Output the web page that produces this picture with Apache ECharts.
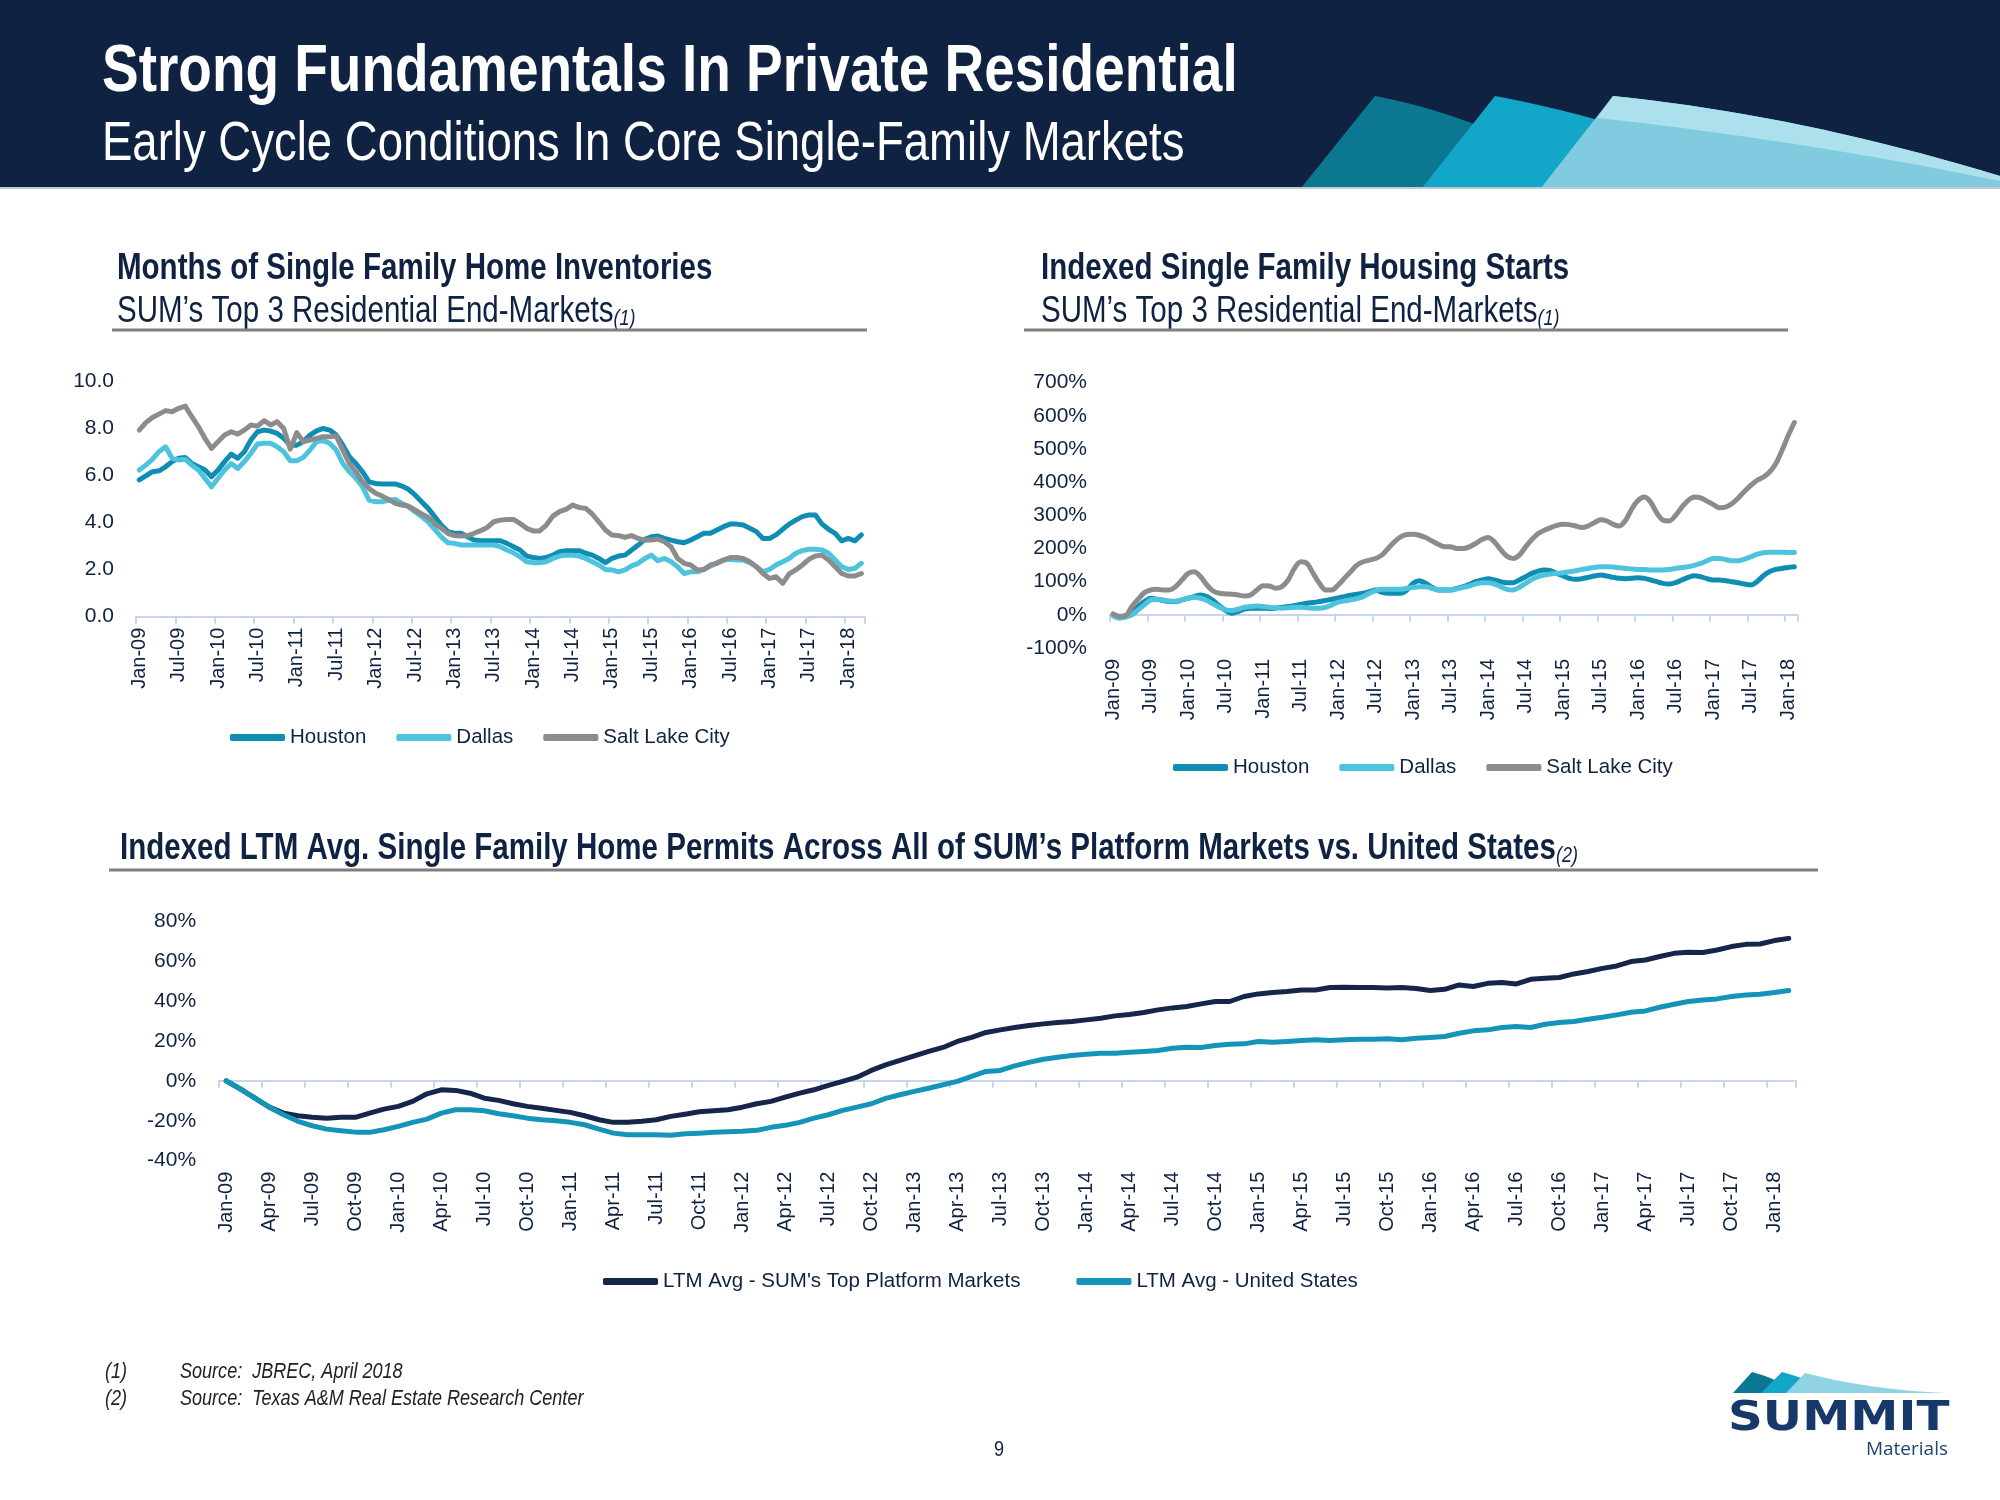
<!DOCTYPE html>
<html>
<head>
<meta charset="utf-8">
<script src="https://cdn.jsdelivr.net/npm/echarts@6/dist/echarts.min.js"></script>
<style>
html,body{margin:0;padding:0;background:#fff;}
#main{width:2000px;height:1500px;}
</style>
</head>
<body>
<div id="main"></div>
<script>
// ---------- DATA ----------
function monthLabels(startYear, count) {
  const m = ['Jan','Feb','Mar','Apr','May','Jun','Jul','Aug','Sep','Oct','Nov','Dec'];
  const out = [];
  for (let i = 0; i < count; i++) {
    const y = startYear + Math.floor(i / 12);
    out.push(m[i % 12] + '-' + String(y % 100).padStart(2, '0'));
  }
  return out;
}
// Chart 1: months of inventory, Jan-09 .. Mar-18
const months1 = monthLabels(2009, 111);
const houstonInv = [5.82,5.99,6.17,6.21,6.38,6.60,6.74,6.77,6.52,6.38,
  6.24,5.96,6.24,6.60,6.92,6.74,7.02,7.52,7.87,7.94,
  7.90,7.80,7.59,7.30,7.30,7.45,7.73,7.91,8.01,7.94,
  7.73,7.30,6.81,6.52,6.17,5.74,5.67,5.65,5.65,5.65,
  5.56,5.42,5.18,4.89,4.61,4.26,3.90,3.62,3.55,3.55,
  3.40,3.26,3.23,3.23,3.23,3.23,3.12,2.98,2.84,2.58,
  2.52,2.48,2.52,2.62,2.77,2.81,2.81,2.81,2.70,2.62,
  2.48,2.30,2.48,2.58,2.62,2.84,3.05,3.29,3.40,3.43,
  3.33,3.26,3.19,3.15,3.26,3.40,3.55,3.55,3.69,3.83,
  3.94,3.94,3.90,3.76,3.62,3.33,3.33,3.48,3.72,3.94,
  4.11,4.26,4.33,4.33,3.94,3.72,3.55,3.23,3.33,3.23,3.48];
const dallasInv = [6.24,6.45,6.70,7.02,7.23,6.74,6.67,6.70,6.45,6.24,
  5.89,5.53,5.89,6.24,6.52,6.31,6.60,6.95,7.35,7.38,
  7.38,7.23,7.02,6.64,6.64,6.78,7.09,7.45,7.49,7.38,
  7.09,6.52,6.17,5.89,5.53,4.96,4.89,4.89,4.96,4.99,
  4.82,4.68,4.47,4.26,4.04,3.72,3.40,3.15,3.12,3.05,
  3.05,3.05,3.05,3.05,3.05,2.98,2.84,2.72,2.55,2.34,
  2.30,2.30,2.34,2.48,2.58,2.62,2.62,2.58,2.48,2.34,
  2.20,2.01,1.99,1.91,1.99,2.16,2.27,2.48,2.62,2.38,
  2.48,2.34,2.13,1.84,1.91,1.91,2.01,2.16,2.30,2.41,
  2.44,2.41,2.41,2.30,2.13,1.91,2.01,2.20,2.34,2.48,
  2.70,2.81,2.87,2.87,2.84,2.70,2.41,2.13,2.01,2.06,2.27];
const slcInv = [7.94,8.26,8.48,8.62,8.77,8.72,8.87,8.96,8.51,8.09,
  7.59,7.16,7.45,7.73,7.87,7.77,7.94,8.16,8.11,8.34,
  8.16,8.30,8.01,7.13,7.83,7.45,7.52,7.59,7.66,7.66,
  7.69,7.09,6.52,6.17,5.74,5.46,5.25,5.13,4.99,4.82,
  4.75,4.71,4.54,4.37,4.23,3.97,3.76,3.55,3.45,3.43,
  3.45,3.55,3.66,3.80,4.04,4.11,4.14,4.14,3.97,3.76,
  3.65,3.65,3.90,4.28,4.47,4.57,4.75,4.65,4.61,4.37,
  4.04,3.69,3.48,3.45,3.38,3.45,3.33,3.26,3.26,3.30,
  3.19,2.98,2.48,2.27,2.20,1.99,2.01,2.20,2.27,2.41,
  2.52,2.52,2.48,2.34,2.13,1.84,1.63,1.70,1.42,1.82,
  1.99,2.20,2.44,2.58,2.62,2.41,2.13,1.84,1.73,1.73,1.84];
const invTicks = [0, 2, 4, 6, 8, 10];

// Chart 2: indexed housing starts (%), Jan-09 .. Feb-18
const months2 = monthLabels(2009, 110);
const houstonStarts = [0,-5,-3,10,25,40,50,47,43,40,
  40,45,50,55,60,55,43,27,13,5,
  10,17,20,20,20,19,20,23,25,28,
  31,35,37,40,43,47,51,55,59,62,
  65,70,75,68,65,65,65,75,95,103,
  95,83,75,75,75,80,85,92,100,105,
  109,105,100,97,97,105,115,125,132,135,
  133,125,117,110,107,109,113,117,120,117,
  113,110,109,110,112,110,105,100,95,93,
  97,105,113,118,115,109,105,105,103,100,
  97,93,90,100,117,130,137,140,143,145];
const dallasStarts = [-3,-10,-7,0,15,30,45,47,45,42,
  41,45,50,53,50,43,33,23,15,13,
  17,23,25,27,25,23,21,20,21,23,
  23,21,20,20,23,30,38,42,45,49,
  55,65,73,77,77,77,77,80,83,85,
  85,80,75,75,75,78,83,87,93,97,
  97,93,85,77,75,83,95,107,115,120,
  123,125,127,130,133,137,140,143,145,145,
  144,142,140,138,137,137,135,135,135,137,
  140,143,145,149,155,163,170,170,167,163,
  163,168,175,182,187,189,189,189,188,188];
const slcStarts = [3,-5,-3,25,47,67,75,77,75,75,
  85,105,125,130,115,90,72,65,63,62,
  60,57,60,75,88,87,80,85,105,140,
  160,155,125,95,75,75,90,110,130,150,
  160,165,170,180,200,220,235,242,243,240,
  233,223,213,205,205,200,200,205,215,227,
  233,220,197,177,170,180,205,227,245,255,
  263,270,273,272,268,263,268,278,287,283,
  273,268,285,320,345,355,340,307,285,283,
  300,325,345,355,353,343,333,323,325,335,
  352,372,390,405,415,430,455,495,540,580];

// Chart 3: indexed LTM avg permits (%), Jan-09 .. Feb-18
const months3 = monthLabels(2009, 110);
const sumPermits = [0,-4.2,-8.7,-13.2,-16.2,-17.5,-18.2,-18.7,-18.2,-18.3,
  -16.2,-14.2,-12.8,-10.3,-6.5,-4.5,-4.8,-6.2,-8.7,-9.8,
  -11.5,-12.8,-13.7,-14.8,-15.8,-17.5,-19.5,-20.8,-20.7,-20.3,
  -19.5,-17.8,-16.7,-15.5,-15.0,-14.5,-13.2,-11.5,-10.3,-8.2,
  -6.2,-4.5,-2.3,-0.3,1.8,5.2,8.0,10.2,12.5,14.7,
  16.7,19.7,21.7,24.2,25.5,26.7,27.7,28.5,29.2,29.7,
  30.5,31.3,32.5,33.2,34.2,35.5,36.5,37.2,38.5,39.7,
  39.7,42.2,43.5,44.2,44.7,45.5,45.5,46.7,46.8,46.7,
  46.7,46.5,46.7,46.2,45.2,45.8,48.0,47.2,48.8,49.2,
  48.5,50.8,51.3,51.7,53.5,54.7,56.3,57.5,59.7,60.5,
  62.2,63.8,64.3,64.2,65.5,67.2,68.3,68.5,70.2,71.3];
const usPermits = [0,-4.2,-8.7,-13.2,-17.0,-20.3,-22.5,-24.2,-25.0,-25.7,
  -25.8,-24.5,-22.8,-20.8,-19.2,-16.2,-14.5,-14.5,-15.0,-16.5,
  -17.5,-18.7,-19.5,-20.0,-20.8,-22.0,-24.2,-26.2,-27.0,-27.0,
  -27.0,-27.3,-26.5,-26.2,-25.8,-25.5,-25.3,-24.8,-23.3,-22.3,
  -20.8,-18.7,-17.0,-14.8,-13.2,-11.5,-8.8,-7.0,-5.3,-3.7,
  -2.0,-0.3,2.2,4.7,5.2,7.5,9.2,10.8,11.8,12.7,
  13.3,13.8,13.8,14.3,14.7,15.2,16.3,16.8,16.7,17.7,
  18.3,18.5,19.7,19.3,19.7,20.2,20.5,20.2,20.5,20.8,
  20.8,21.0,20.5,21.3,21.7,22.2,23.8,25.0,25.5,26.7,
  27.2,26.7,28.3,29.2,29.7,30.8,31.8,33.0,34.3,35.0,
  36.8,38.3,39.7,40.5,41.0,42.2,43.0,43.3,44.2,45.2];

// ---------- STYLE ----------
const ARIAL = '"Liberation Sans", Arial, sans-serif';
const NARROW = ARIAL;            // text is horizontally condensed with scaleX
const SQ = 0.82;                 // Arial Narrow ~ Arial at 82% width
const NAVY = '#0f2242';
const C_HOU = '#0f8db2';
const C_DAL = '#4dc3dd';
const C_SLC = '#8c8c8c';
const C_SUM = '#15264a';
const C_US = '#1594b9';
const AXIS = '#c8d5ee';

function bez(p0, c, p1, n) {
  const pts = [];
  for (let k = 0; k <= n; k++) {
    const t = k / n;
    pts.push([(1-t)*(1-t)*p0[0] + 2*(1-t)*t*c[0] + t*t*p1[0],
              (1-t)*(1-t)*p0[1] + 2*(1-t)*t*c[1] + t*t*p1[1]]);
  }
  return pts;
}

function txt(x, y, text, size, opts) {
  opts = opts || {};
  const el = {
    type: 'text', x: x, y: y,
    scaleX: opts.scaleX === undefined ? SQ : opts.scaleX,
    style: {
      text: text, fontSize: size, fontFamily: opts.family || NARROW,
      fontWeight: opts.weight || 'normal', fontStyle: opts.style || 'normal',
      fill: opts.fill || NAVY, align: opts.align || 'left', verticalAlign: 'middle'
    }
  };
  if (opts.rich) el.style.rich = opts.rich;
  return el;
}

const subRich = {
  a: { fontSize: 36, fontFamily: NARROW, fill: NAVY },
  b: { fontSize: 22, fontFamily: NARROW, fontStyle: 'italic', fill: NAVY, verticalAlign: 'bottom' }
};
const titleRich = {
  a: { fontSize: 36, fontFamily: NARROW, fontWeight: 'bold', fill: NAVY },
  b: { fontSize: 22, fontFamily: NARROW, fontStyle: 'italic', fill: NAVY, verticalAlign: 'bottom' }
};

const graphics = [
  { type: 'rect', shape: { x: 0, y: 0, width: 2000, height: 188 }, style: { fill: NAVY } },
  { type: 'polygon', shape: { points: [[1301,188],[1375,96]].concat(bez([1375,96],[1430,106],[1495,132],10)).concat([[1495,188]]) }, style: { fill: '#0c7790' } },
  { type: 'polygon', shape: { points: [[1422,188],[1495,96]].concat(bez([1495,96],[1560,108],[1625,128],12)).concat([[1625,188]]) }, style: { fill: '#12a6c8' } },
  { type: 'polygon', shape: { points: [[1541,188],[1613,96]].concat(bez([1613,96],[1800,115],[2000,176],20)).concat([[2000,188]]) }, style: { fill: '#80cbdf' } },
  { type: 'polygon', shape: { points: bez([1613,96],[1800,115],[2000,176],20).concat(bez([2000,181],[1800,140],[1597,118],20)) }, style: { fill: '#ace0ec' } },
  { type: 'rect', shape: { x: 0, y: 187, width: 2000, height: 2 }, style: { fill: '#c0c8d4' } },
  txt(102, 73, 'Strong Fundamentals In Private Residential', 67, { weight: 'bold', fill: '#ffffff' }),
  txt(102, 145, 'Early Cycle Conditions In Core Single-Family Markets', 55.5, { fill: '#ffffff' }),

  txt(117, 269, 'Months of Single Family Home Inventories', 36, { weight: 'bold' }),
  txt(117, 312, '{a|SUM’s Top 3 Residential End-Markets}{b|(1)}', 36, { rich: subRich }),
  { type: 'rect', shape: { x: 112, y: 328.5, width: 755, height: 3 }, style: { fill: '#7f7f7f' } },

  txt(1041, 269, 'Indexed Single Family Housing Starts', 36, { weight: 'bold' }),
  txt(1041, 312, '{a|SUM’s Top 3 Residential End-Markets}{b|(1)}', 36, { rich: subRich }),
  { type: 'rect', shape: { x: 1024, y: 328.5, width: 764, height: 3 }, style: { fill: '#7f7f7f' } },

  txt(120, 849, '{a|Indexed LTM Avg. Single Family Home Permits Across All of SUM’s Platform Markets vs. United States}{b|(2)}', 36, { rich: titleRich }),
  { type: 'rect', shape: { x: 109, y: 868.5, width: 1709, height: 3 }, style: { fill: '#7f7f7f' } },

  txt(105, 1372, '(1)', 22, { style: 'italic', fill: '#222222' }),
  txt(180, 1372, 'Source:  JBREC, April 2018', 22, { style: 'italic', fill: '#222222' }),
  txt(105, 1399, '(2)', 22, { style: 'italic', fill: '#222222' }),
  txt(180, 1399, 'Source:  Texas A&M Real Estate Research Center', 22, { style: 'italic', fill: '#222222' }),
  txt(999, 1450, '9', 22, { align: 'center' }),

  { type: 'polygon', shape: { points: [[1733,1393],[1752,1372]].concat(bez([1752,1372],[1775,1378],[1800,1393],8)) }, style: { fill: '#0c7790' } },
  { type: 'polygon', shape: { points: [[1761,1393],[1782,1372]].concat(bez([1782,1372],[1810,1380],[1840,1393],8)) }, style: { fill: '#12a6c8' } },
  { type: 'polygon', shape: { points: [[1786,1393],[1805,1373]].concat(bez([1805,1373],[1870,1390],[1947,1393],10)) }, style: { fill: '#8fd3e5' } },
  txt(1728, 1419, 'SUMMIT', 41, { family: '"DejaVu Sans", sans-serif', weight: 'bold', fill: '#17396a', scaleX: 1.18 }),
  txt(1948, 1450, 'Materials', 19, { family: '"Open Sans", sans-serif', fill: '#1f4470', align: 'right', scaleX: 1 })
];

function catAxis(grid, data, interval, opts) {
  return Object.assign({
    type: 'category', gridIndex: grid, data: data, boundaryGap: true, position: 'bottom',
    axisLine: { show: true, onZero: true, lineStyle: { color: AXIS, width: 2 } },
    axisTick: { show: true, interval: interval, length: 7, lineStyle: { color: AXIS, width: 2 } },
    axisLabel: { show: true, interval: interval, rotate: 90, margin: 11, fontSize: 20, fontFamily: ARIAL, color: NAVY },
    splitLine: { show: false }
  }, opts || {});
}
function valAxis(grid, min, max, step, fmt, margin) {
  return {
    type: 'value', gridIndex: grid, min: min, max: max, interval: step,
    axisLine: { show: false }, axisTick: { show: false }, splitLine: { show: false },
    axisLabel: { formatter: fmt, margin: margin, fontSize: 21, fontFamily: ARIAL, color: NAVY }
  };
}
function lineSeries(name, xi, yi, data, color, smooth) {
  return {
    type: 'line', name: name, xAxisIndex: xi, yAxisIndex: yi, data: data,
    showSymbol: false, symbol: 'none', smooth: smooth || false,
    lineStyle: { width: 5, color: color, cap: 'round', join: 'round' },
    itemStyle: { color: color }, animation: false
  };
}
const legendCommon = {
  icon: 'roundRect', itemWidth: 55, itemHeight: 7, itemGap: 30, padding: 0,
  textStyle: { fontSize: 20.5, fontFamily: ARIAL, color: NAVY }, selectedMode: false
};

const option = {
  animation: false,
  backgroundColor: '#ffffff',
  grid: [
    { left: 136, top: 381.7, width: 728.7, height: 235, containLabel: false },
    { left: 1110, top: 382.7, width: 687.5, height: 265.3, containLabel: false },
    { left: 219.1, top: 921, width: 1576.8, height: 239.7, containLabel: false }
  ],
  xAxis: [
    catAxis(0, months1, 5),
    catAxis(1, months2, 5, { axisLabel: { show: false } }),
    catAxis(1, months2, 5, { axisLine: { show: false, onZero: false }, axisTick: { show: false } }),
    catAxis(2, months3, 2, { axisLabel: { show: false } }),
    catAxis(2, months3, 2, { axisLine: { show: false, onZero: false }, axisTick: { show: false } })
  ],
  yAxis: [
    valAxis(0, invTicks[0], invTicks[invTicks.length - 1], 2, v => v.toFixed(1), 22),
    valAxis(1, -100, 700, 100, '{value}%', 23),
    valAxis(2, -40, 80, 20, '{value}%', 23)
  ],
  legend: [
    Object.assign({ left: 230, top: 727, data: ['Houston', 'Dallas', 'Salt Lake City'] }, legendCommon),
    Object.assign({ left: 1173, top: 757, data: ['Houston', 'Dallas', 'Salt Lake City'] }, legendCommon),
    Object.assign({ left: 603, top: 1271, data: ["LTM Avg - SUM's Top Platform Markets", 'LTM Avg - United States'] }, legendCommon, { itemGap: 56 })
  ],
  series: [
    lineSeries('Houston', 0, 0, houstonInv, C_HOU),
    lineSeries('Dallas', 0, 0, dallasInv, C_DAL),
    lineSeries('Salt Lake City', 0, 0, slcInv, C_SLC),
    lineSeries('Houston', 1, 1, houstonStarts, C_HOU, 0.3),
    lineSeries('Dallas', 1, 1, dallasStarts, C_DAL, 0.3),
    lineSeries('Salt Lake City', 1, 1, slcStarts, C_SLC, 0.3),
    lineSeries("LTM Avg - SUM's Top Platform Markets", 3, 2, sumPermits, C_SUM),
    lineSeries('LTM Avg - United States', 3, 2, usPermits, C_US)
  ],
  graphic: { elements: graphics }
};

const chart = echarts.init(document.getElementById('main'), null, { renderer: 'canvas' });
chart.setOption(option);
</script>
</body>
</html>
